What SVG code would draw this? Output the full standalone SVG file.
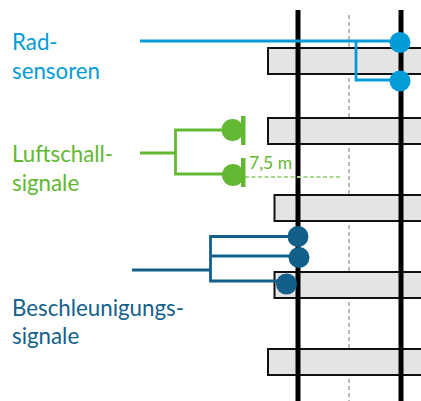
<svg xmlns="http://www.w3.org/2000/svg" width="421" height="401" viewBox="0 0 421 401">
<style>
.s{fill:#e4e4e4;stroke:#111;stroke-width:2}
.r{stroke:#000;stroke-width:5;fill:none}
.t{font-family:Lato,"Liberation Sans",sans-serif;font-size:22.3px}
.b{stroke:#049cd8;fill:none;stroke-width:2.800}
.g{stroke:#62b833;fill:none;stroke-width:2.800}
.d{stroke:#135f8c;fill:none;stroke-width:2.800}
</style>
<rect width="421" height="401" fill="#fff"/>
<g id="track">
<line x1="349" y1="15" x2="349" y2="401" stroke="#b5b5b5" stroke-width="1.800" stroke-dasharray="4 3"/>
<rect class="s" x="268" y="48" width="160" height="26"/>
<rect class="s" x="268" y="118" width="160" height="26"/>
<rect class="s" x="274.500" y="195" width="160" height="26"/>
<rect class="s" x="274.500" y="272" width="160" height="26"/>
<rect class="s" x="268" y="349" width="160" height="26"/>
<line class="r" x1="298" y1="10" x2="298" y2="401"/>
<line class="r" x1="401" y1="10" x2="401" y2="401"/>
</g>
<g id="connectors">
<path class="b" d="M140 41H395M356 41V80H395"/>
<path class="g" d="M140 153H175.500M226 130H175.500V174H226"/>
<line x1="245" y1="177" x2="342" y2="177" stroke="#a9d88f" stroke-width="1.800" stroke-dasharray="4 2.500"/>
<path class="d" d="M132 270H210.500M290 236.500H210.500V281H280M210.500 256H290"/>
</g>
<g id="rad-sensoren">
<circle cx="400" cy="42.500" r="10.500" fill="#049cd8"/>
<circle cx="400" cy="81" r="10.500" fill="#049cd8"/>
<text class="t" fill="#049cd8"><tspan x="12" y="50">Rad-</tspan><tspan x="12" y="79">sensoren</tspan></text>
</g>
<g id="luftschall-signale">
<circle cx="232.500" cy="130" r="11" fill="#62b833"/>
<rect x="241" y="116" width="4.500" height="29" fill="#62b833"/>
<circle cx="233" cy="175" r="11" fill="#62b833"/>
<rect x="241" y="158" width="4.500" height="29" fill="#62b833"/>
<text class="t" fill="#62b833"><tspan x="12" y="162">Luftschall-</tspan><tspan x="12" y="191">signale</tspan></text>
<text x="249" y="169" font-family="Lato,'Liberation Sans',sans-serif" font-size="17.500" fill="#62b833">7,5 m</text>
</g>
<g id="beschleunigungs-signale">
<circle cx="298" cy="236.500" r="10.500" fill="#135f8c"/>
<circle cx="299" cy="257.500" r="10.500" fill="#135f8c"/>
<circle cx="286.500" cy="284" r="10.500" fill="#135f8c"/>
<text class="t" fill="#135f8c"><tspan x="12" y="316">Beschleunigungs-</tspan><tspan x="12" y="344">signale</tspan></text>
</g>
</svg>
